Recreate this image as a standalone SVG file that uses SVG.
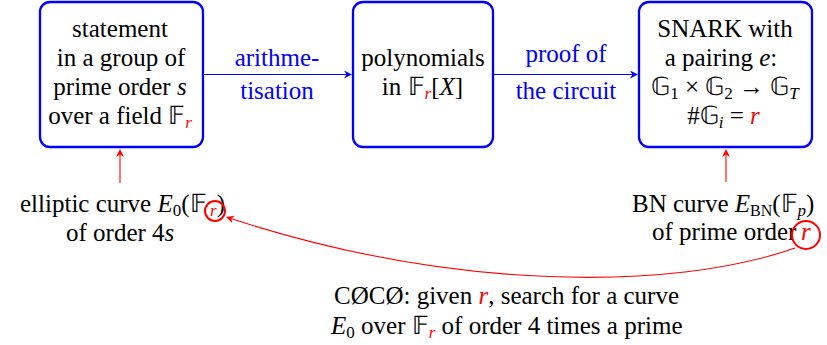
<svg xmlns="http://www.w3.org/2000/svg" width="827" height="345" viewBox="0 0 827 345">
<g id="connectors">
<path fill="none" stroke="#0000ff" stroke-width="1.1" d="M203,74.5 H347"/>
<path fill="#0000ff" d="M352,74.5 L344,70.5 L346.5,74.5 L344,78.5 Z"/>
<text font-family="Liberation Serif" font-size="25" text-anchor="middle" fill="#0000ff" x="277" y="66">arithme-</text>
<text font-family="Liberation Serif" font-size="25" text-anchor="middle" fill="#0000ff" x="277" y="99">tisation</text>
<path fill="none" stroke="#0000ff" stroke-width="1.1" d="M493,74.5 H633"/>
<path fill="#0000ff" d="M638,74.5 L630,70.5 L632.5,74.5 L630,78.5 Z"/>
<text font-family="Liberation Serif" font-size="25" text-anchor="middle" fill="#0000ff" x="566" y="62">proof of</text>
<text font-family="Liberation Serif" font-size="25" text-anchor="middle" fill="#0000ff" x="566" y="99">the circuit</text>
<path fill="none" stroke="#ff0000" stroke-width="1.1" d="M120,183 V154"/>
<path fill="#ff0000" d="M120,149 L116,157 L120,154.5 L124,157 Z"/>
<path fill="none" stroke="#ff0000" stroke-width="1.1" d="M726,182 V154"/>
<path fill="#ff0000" d="M726,149 L722,157 L726,154.5 L730,157 Z"/>
<path fill="none" stroke="#ff0000" stroke-width="1.1" d="M795,248 C670,292 450,290 231,218.6"/>
<path fill="#ff0000" d="M226,217 L234.8,215.7 L231.2,218.7 L232.4,223.3 Z"/>
</g>

<g id="statement">
<rect fill="#ffffff" stroke="#0000ff" stroke-width="2.3" x="40" y="2" width="163" height="145" rx="10"/>
<text font-family="Liberation Serif" font-size="25" text-anchor="middle" x="120" y="37">statement</text>
<text font-family="Liberation Serif" font-size="25" text-anchor="middle" x="121" y="66">in a group of</text>
<text font-family="Liberation Serif" font-size="25" text-anchor="middle" x="120" y="95">prime order <tspan font-style="italic">s</tspan></text>
<text font-family="Liberation Serif" font-size="25" text-anchor="middle" x="120" y="124">over a field 𝔽<tspan fill="#ff0000" font-style="italic" font-size="17" dy="4">r</tspan></text>
</g>

<g id="polynomials">
<rect fill="#ffffff" stroke="#0000ff" stroke-width="2.3" x="353" y="2" width="140" height="145" rx="10"/>
<text font-family="Liberation Serif" font-size="25" text-anchor="middle" x="423" y="66">polynomials</text>
<text font-family="Liberation Serif" font-size="25" text-anchor="middle" x="422.5" y="95">in 𝔽<tspan fill="#ff0000" font-style="italic" font-size="17" dy="4">r</tspan><tspan dy="-4">[</tspan><tspan font-style="italic">X</tspan>]</text>
</g>

<g id="snark">
<rect fill="#ffffff" stroke="#0000ff" stroke-width="2.3" x="639" y="2" width="173" height="145" rx="10"/>
<text font-family="Liberation Serif" font-size="25" text-anchor="middle" x="725" y="37">SNARK with</text>
<text font-family="Liberation Serif" font-size="25" text-anchor="middle" x="721" y="66">a pairing <tspan font-style="italic">e</tspan>:</text>
<text font-family="Liberation Serif" font-size="25" text-anchor="middle" x="725" y="95">𝔾<tspan font-size="17" dy="4">1</tspan><tspan dy="-4"> × 𝔾</tspan><tspan font-size="17" dy="4">2</tspan><tspan dy="-4"> → 𝔾</tspan><tspan font-style="italic" font-size="17" dy="4">T</tspan></text>
<text font-family="Liberation Serif" font-size="25" text-anchor="middle" x="723.5" y="124">#𝔾<tspan font-style="italic" font-size="17" dy="4">i</tspan><tspan dy="-4"> = </tspan><tspan fill="#ff0000" font-style="italic">r</tspan></text>
</g>

<g id="elliptic">
<text font-family="Liberation Serif" font-size="25" x="20" y="212">elliptic curve <tspan font-style="italic">E</tspan><tspan font-size="17" dy="4">0</tspan><tspan dy="-4">(𝔽</tspan><tspan x="210" fill="#ff0000" font-style="italic" font-size="17" dy="4">r</tspan><tspan dy="-4">)</tspan></text>
<text font-family="Liberation Serif" font-size="25" x="66" y="241">of order 4<tspan font-style="italic">s</tspan></text>
<circle fill="none" stroke="#ff0000" stroke-width="2" cx="215" cy="211" r="10"/>
</g>

<g id="bn">
<text font-family="Liberation Serif" font-size="25" x="632" y="212">BN curve <tspan font-style="italic">E</tspan><tspan font-size="16" dy="4">BN</tspan><tspan dy="-4">(𝔽</tspan><tspan font-style="italic" font-size="17" dy="4">p</tspan><tspan dy="-4">)</tspan></text>
<text font-family="Liberation Serif" font-size="25" x="652" y="240">of prime order<tspan x="801" fill="#ff0000" font-style="italic">r</tspan></text>
<circle fill="none" stroke="#ff0000" stroke-width="2" cx="806" cy="235" r="14"/>
</g>

<g id="coco">
<text font-family="Liberation Serif" font-size="25" x="334" y="304">CØCØ: given <tspan fill="#ff0000" font-style="italic">r</tspan>, search for a curve</text>
<text font-family="Liberation Serif" font-size="25" x="331" y="334"><tspan font-style="italic">E</tspan><tspan font-size="17" dy="4">0</tspan><tspan dy="-4"> over 𝔽</tspan><tspan fill="#ff0000" font-style="italic" font-size="17" dy="4">r</tspan><tspan dy="-4"> of order 4 times a prime</tspan></text>
</g>
</svg>
